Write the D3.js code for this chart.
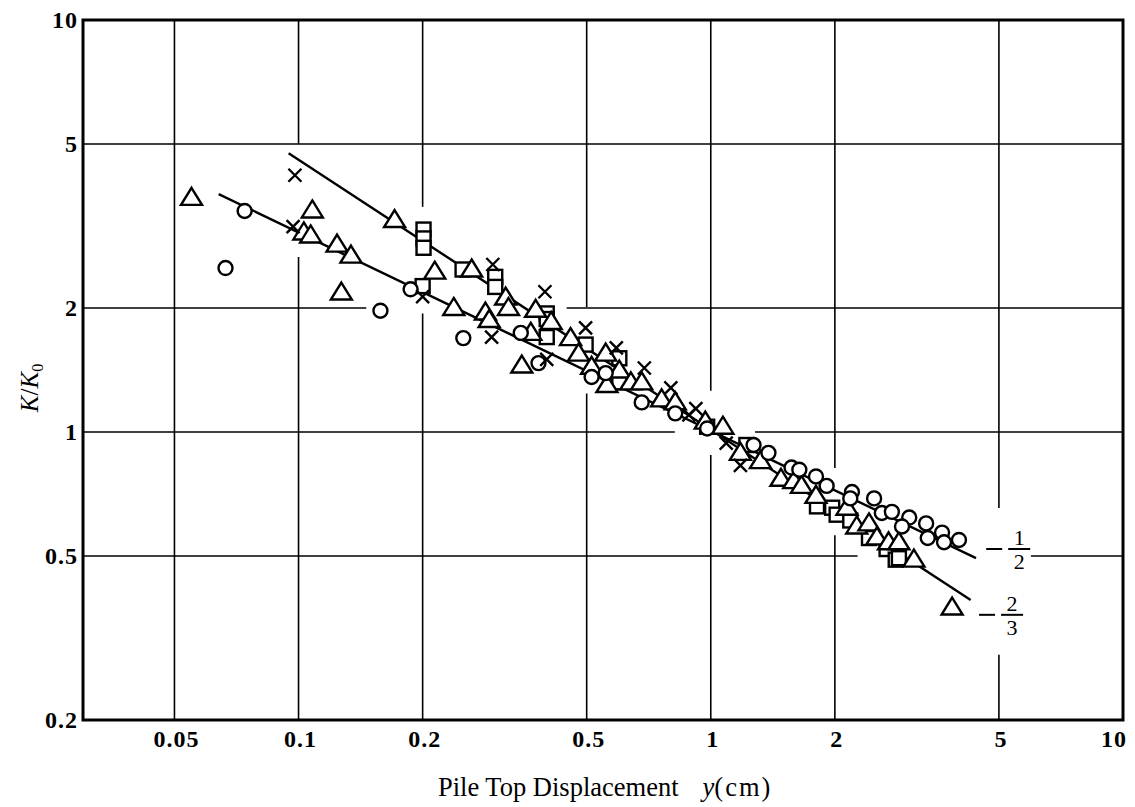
<!DOCTYPE html>
<html>
<head>
<meta charset="utf-8">
<script src="https://cdn.jsdelivr.net/npm/d3@7"></script>
<style>
  html, body { margin: 0; padding: 0; background: #fff; }
  svg { display: block; }
</style>
</head>
<body>
<svg id="chart" width="1135" height="807"></svg>
<script>
// ---------------- data ----------------
const xTickValues = [0.05, 0.1, 0.2, 0.5, 1, 2, 5, 10];
const xTickLabels = ["0.05", "0.1", "0.2", "0.5", "1", "2", "5", "10"];
const yTickValues = [0.2, 0.5, 1, 2, 5, 10];
const yTickLabels = ["0.2", "0.5", "1", "2", "5", "10"];

// series: open circles
const circleX = [0.074, 0.0665, 0.158, 0.187, 0.251, 0.346, 0.382, 0.514, 0.556, 0.68, 0.82, 0.98, 1.27, 1.38, 1.57, 1.64, 1.80, 1.91, 2.20, 2.18, 2.49, 2.60, 2.75, 3.03, 2.91, 3.33, 3.36, 3.64, 3.68, 4.0];
const circleY = [3.44, 2.50, 1.97, 2.22, 1.69, 1.74, 1.47, 1.36, 1.39, 1.18, 1.11, 1.02, 0.93, 0.89, 0.82, 0.81, 0.78, 0.74, 0.715, 0.69, 0.69, 0.636, 0.64, 0.62, 0.59, 0.60, 0.553, 0.57, 0.54, 0.547];

// series: open triangles
const triX = [0.055, 0.108, 0.103, 0.107, 0.124, 0.134, 0.127, 0.171, 0.214, 0.263, 0.238, 0.318, 0.323, 0.284, 0.29, 0.376, 0.41, 0.366, 0.348, 0.457, 0.478, 0.514, 0.556, 0.56, 0.60, 0.64, 0.68, 0.76, 0.82, 0.97, 1.07, 1.18, 1.32, 1.48, 1.59, 1.66, 1.80, 2.14, 2.26, 2.42, 2.53, 2.70, 2.86, 3.11, 3.85];
const triY = [3.70, 3.45, 3.05, 3.00, 2.85, 2.68, 2.18, 3.27, 2.45, 2.48, 2.00, 2.12, 2.00, 1.95, 1.87, 1.98, 1.85, 1.74, 1.45, 1.69, 1.55, 1.44, 1.55, 1.30, 1.41, 1.32, 1.32, 1.20, 1.18, 1.06, 1.03, 0.89, 0.85, 0.77, 0.76, 0.74, 0.70, 0.655, 0.59, 0.60, 0.555, 0.54, 0.54, 0.49, 0.375];

// series: open squares
const sqX = [0.20, 0.201, 0.201, 0.201, 0.25, 0.30, 0.30, 0.40, 0.40, 0.40, 0.497, 0.60, 0.60, 0.98, 1.22, 1.81, 1.97, 2.02, 2.18, 2.42, 2.67, 2.81, 2.86];
const sqY = [2.26, 3.10, 2.95, 2.80, 2.48, 2.38, 2.25, 1.94, 1.88, 1.70, 1.63, 1.51, 1.32, 1.03, 0.93, 0.66, 0.655, 0.63, 0.61, 0.553, 0.52, 0.49, 0.494];

// series: crosses
const crossX = [0.098, 0.097, 0.20, 0.296, 0.294, 0.396, 0.40, 0.497, 0.59, 0.69, 0.80, 0.885, 0.92, 1.09, 1.18];
const crossY = [4.20, 3.15, 2.13, 2.55, 1.70, 2.19, 1.50, 1.79, 1.60, 1.43, 1.28, 1.10, 1.14, 0.94, 0.83];

// fitted lines (end points)
const lineHalfX = [0.064, 4.4];
const lineHalfY = [3.78, 0.494];
const lineTwoThirdsX = [0.0946, 4.27];
const lineTwoThirdsY = [4.75, 0.391];

// slope annotations
const slopeLabels = [
  { x: 4.87, y: 0.52, num: "1", den: "2" },
  { x: 4.68, y: 0.36, num: "2", den: "3" }
];

// grid-line breaks (value ranges where the printed grid is interrupted)
const vGridBreaks = [
  { x: 0.1, from: 2.66, to: 5 },
  { x: 0.2, from: 1.94, to: 3.52 },
  { x: 0.5, from: 1.24, to: 2.01 },
  { x: 1, from: 0.88, to: 1.26 },
  { x: 2, from: 0.562, to: 0.818 },
  { x: 5, from: 0.288, to: 0.654 }
];
const hGridBreaks = [
  { y: 2, from: 0.146, to: 0.447 },
  { y: 1, from: 0.818, to: 1.28 },
  { y: 0.5, from: 2.27, to: 5.98 }
];

// ---------------- chart ----------------
const svg = d3.select("#chart");
const xDomain = [0.03, 10], yDomain = [0.2, 10];
const x = d3.scaleLog().domain(xDomain).range([83, 1123]);
const y = d3.scaleLog().domain(yDomain).range([720, 20]);

const gGrid = svg.append("g").attr("stroke", "#000").attr("stroke-width", 1.6).attr("fill", "none");

xTickValues.filter(v => v > xDomain[0] && v < xDomain[1]).forEach(v => {
  const br = vGridBreaks.find(b => b.x === v);
  const segs = br ? [[yDomain[0], br.from], [br.to, yDomain[1]]] : [[yDomain[0], yDomain[1]]];
  segs.forEach(s => {
    gGrid.append("line").attr("x1", x(v)).attr("x2", x(v)).attr("y1", y(s[0])).attr("y2", y(s[1]));
  });
});
yTickValues.filter(v => v > yDomain[0] && v < yDomain[1]).forEach(v => {
  const br = hGridBreaks.find(b => b.y === v);
  const segs = br ? [[xDomain[0], br.from], [br.to, xDomain[1]]] : [[xDomain[0], xDomain[1]]];
  segs.forEach(s => {
    gGrid.append("line").attr("y1", y(v)).attr("y2", y(v)).attr("x1", x(s[0])).attr("x2", x(s[1]));
  });
});

svg.append("rect")
  .attr("x", x(xDomain[0])).attr("y", y(yDomain[1]))
  .attr("width", x(xDomain[1]) - x(xDomain[0]))
  .attr("height", y(yDomain[0]) - y(yDomain[1]))
  .attr("fill", "none").attr("stroke", "#000").attr("stroke-width", 3);

const tickFont = "'Liberation Serif', 'DejaVu Serif', serif";
svg.append("g").selectAll("text").data(xTickValues).join("text")
  .attr("x", d => Math.min(x(d) + 2, 1114)).attr("y", 747)
  .attr("text-anchor", "middle")
  .attr("font-family", tickFont).attr("font-weight", "bold").attr("font-size", 24)
  .attr("letter-spacing", 1)
  .text((d, i) => xTickLabels[i]);

svg.append("g").selectAll("text").data(yTickValues).join("text")
  .attr("x", 78).attr("y", d => y(d)).attr("dy", "0.35em")
  .attr("text-anchor", "end")
  .attr("font-family", tickFont).attr("font-weight", "bold").attr("font-size", 24)
  .attr("letter-spacing", 1)
  .text((d, i) => yTickLabels[i]);

const xt = svg.append("text").attr("x", 438).attr("y", 796).attr("text-anchor", "start")
  .attr("font-family", tickFont).attr("font-size", 26.5);
xt.append("tspan").text("Pile Top Displacement");
xt.append("tspan").attr("dx", 24).attr("font-style", "italic").text("y");
xt.append("tspan").attr("letter-spacing", 2).text("(cm)");

const yt = svg.append("text").attr("transform", "translate(38,388) rotate(-90)")
  .attr("text-anchor", "middle").attr("font-family", tickFont).attr("font-size", 25);
yt.append("tspan").attr("font-style", "italic").text("K");
yt.append("tspan").text("/");
yt.append("tspan").attr("font-style", "italic").text("K");
yt.append("tspan").attr("font-size", 16).attr("dy", 5).text("0");

const lineGen = d3.line().x(d => x(d[0])).y(d => y(d[1]));
[[lineHalfX, lineHalfY], [lineTwoThirdsX, lineTwoThirdsY]].forEach(([lx, ly]) => {
  svg.append("path").datum(lx.map((v, i) => [v, ly[i]]))
    .attr("d", lineGen).attr("fill", "none").attr("stroke", "#000").attr("stroke-width", 2.4);
});

const mk = svg.append("g").attr("stroke", "#000").attr("stroke-width", 2.4).attr("fill", "#fff");

function trianglePath(cx, cy) {
  const p = d3.path();
  p.moveTo(cx, cy - 10); p.lineTo(cx + 10.5, cy + 7); p.lineTo(cx - 10.5, cy + 7); p.closePath();
  return p.toString();
}
function crossPath(cx, cy) {
  const p = d3.path(), h = 6.5;
  p.moveTo(cx - h, cy - h); p.lineTo(cx + h, cy + h);
  p.moveTo(cx + h, cy - h); p.lineTo(cx - h, cy + h);
  return p.toString();
}

mk.selectAll("rect.sq").data(sqX.map((v, i) => [v, sqY[i]])).join("rect")
  .attr("class", "sq")
  .attr("x", d => x(d[0]) - 7).attr("y", d => y(d[1]) - 7)
  .attr("width", 14).attr("height", 14);

mk.selectAll("path.tri").data(triX.map((v, i) => [v, triY[i]])).join("path")
  .attr("class", "tri")
  .attr("d", d => trianglePath(x(d[0]), y(d[1])));

mk.selectAll("circle.ci").data(circleX.map((v, i) => [v, circleY[i]])).join("circle")
  .attr("class", "ci")
  .attr("cx", d => x(d[0])).attr("cy", d => y(d[1])).attr("r", 7);

mk.selectAll("path.cr").data(crossX.map((v, i) => [v, crossY[i]])).join("path")
  .attr("class", "cr").attr("fill", "none")
  .attr("d", d => crossPath(x(d[0]), y(d[1])));

slopeLabels.forEach(s => {
  const cx = x(s.x), cy = y(s.y);
  const g = svg.append("g");
  g.append("line").attr("x1", cx - 8).attr("x2", cx + 8).attr("y1", cy).attr("y2", cy)
    .attr("stroke", "#000").attr("stroke-width", 2);
  const fx = cx + 25;
  g.append("line").attr("x1", fx - 11).attr("x2", fx + 11).attr("y1", cy).attr("y2", cy)
    .attr("stroke", "#000").attr("stroke-width", 2);
  g.append("text").attr("x", fx).attr("y", cy - 4).attr("text-anchor", "middle")
    .attr("font-family", tickFont).attr("font-size", 22).text(s.num);
  g.append("text").attr("x", fx).attr("y", cy + 20).attr("text-anchor", "middle")
    .attr("font-family", tickFont).attr("font-size", 22).text(s.den);
});
</script>
</body>
</html>
